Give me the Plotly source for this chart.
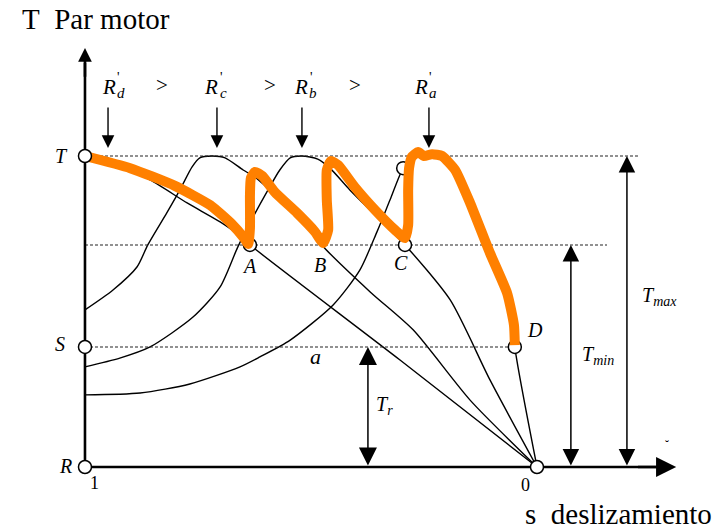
import plotly.graph_objects as go

# Horizontal axis: slip s (1 = standstill on the left, 0 = synchronous speed).
# Vertical axis: motor torque, normalised so that the peak torque is 1.
T_MAX = 1.0
T_MIN = 0.714
T_R = 0.386

# Torque-slip characteristics for the four rotor resistances R'd > R'c > R'b > R'a
slip_d = [1.000, 0.923, 0.856, 0.774, 0.701, 0.657, 0.635, 0.303, 0.0]
torque_d = [1.000, 0.965, 0.923, 0.849, 0.788, 0.743, 0.714, 0.344, 0.0]

slip_c = [1.000, 0.938, 0.885, 0.861, 0.819, 0.790, 0.763, 0.746, 0.719, 0.690,
          0.650, 0.624, 0.591, 0.531, 0.491, 0.476, 0.369, 0.274, 0.148, 0.0]
torque_c = [0.505, 0.569, 0.643, 0.714, 0.817, 0.891, 0.965, 0.994, 1.000, 0.994,
            0.955, 0.932, 0.891, 0.810, 0.746, 0.714, 0.563, 0.441, 0.215, 0.0]

slip_b = [1.000, 0.923, 0.856, 0.761, 0.701, 0.662, 0.628, 0.595, 0.569, 0.546,
          0.520, 0.485, 0.458, 0.414, 0.358, 0.314, 0.292, 0.192, 0.104, 0.0]
torque_b = [0.322, 0.350, 0.386, 0.482, 0.579, 0.707, 0.804, 0.891, 0.955, 0.994,
            1.000, 0.990, 0.961, 0.891, 0.810, 0.746, 0.714, 0.537, 0.280, 0.0]

slip_a = [1.000, 0.878, 0.768, 0.657, 0.613, 0.546, 0.451, 0.392, 0.354, 0.325,
          0.296, 0.274, 0.241, 0.210, 0.181, 0.148, 0.104, 0.066, 0.051, 0.049, 0.0]
torque_a = [0.232, 0.238, 0.267, 0.322, 0.354, 0.408, 0.521, 0.633, 0.756, 0.859,
            0.961, 0.994, 1.000, 0.987, 0.955, 0.849, 0.688, 0.559, 0.457, 0.386, 0.0]

# Starting trajectory: T -> A, jump, -> B, jump, -> C, jump, -> D
slip_path = [1.000, 0.900, 0.801, 0.723, 0.675, 0.648, 0.639,
             0.635, 0.635, 0.633, 0.624, 0.608, 0.580, 0.531, 0.491, 0.473,
             0.462, 0.465, 0.465, 0.456, 0.440, 0.403, 0.358, 0.314, 0.292,
             0.285, 0.285, 0.283, 0.277, 0.263, 0.250, 0.232, 0.210, 0.181,
             0.148, 0.104, 0.066, 0.051, 0.049]
torque_path = [1.000, 0.961, 0.904, 0.842, 0.781, 0.736, 0.717,
               0.768, 0.875, 0.929, 0.949, 0.936, 0.884, 0.817, 0.756, 0.720,
               0.762, 0.859, 0.955, 0.984, 0.971, 0.900, 0.826, 0.762, 0.736,
               0.778, 0.891, 0.961, 0.997, 1.013, 1.000, 1.006, 1.000, 0.955,
               0.849, 0.688, 0.559, 0.457, 0.392]

# Switching points
pt_names = ["A", "B", "C", "D"]
pt_slip = [0.635, 0.476, 0.292, 0.049]
pt_torque = [T_MIN, T_MIN, T_MIN, T_R]
upper_slip = 0.296      # point reached on curve R'a after the last switch
upper_torque = 0.961

# Resistance labels above the peaks
res_sub = ["d", "c", "b", "a"]
res_label_slip = [0.947, 0.721, 0.522, 0.257]
res_arrow_slip = [0.949, 0.708, 0.520, 0.239]
gt_slip = [0.830, 0.591, 0.403]

SERIF = "'Liberation Serif', 'Times New Roman', Times, serif"

fig = go.Figure()

def line(x, y, width=1.4, color="black", dash=None, shape="spline", smoothing=0.7):
    fig.add_trace(go.Scatter(
        x=x, y=y, mode="lines", hoverinfo="skip", showlegend=False,
        line=dict(color=color, width=width, dash=dash, shape=shape,
                  smoothing=smoothing if shape == "spline" else None)))

# torque-slip curves
for s, t in [(slip_d, torque_d), (slip_c, torque_c), (slip_b, torque_b), (slip_a, torque_a)]:
    line(s, t)

# dotted reference levels
line([1, -0.228], [T_MAX, T_MAX], width=1.1, color="#222", dash="3px,2px", shape="linear")
line([1, -0.155], [T_MIN, T_MIN], width=1.1, color="#222", dash="3px,2px", shape="linear")
line([1, pt_slip[3]], [T_R, T_R], width=1.1, color="#222", dash="3px,2px", shape="linear")

# coordinate axes
line([1, 1], [0, 1.30], width=2.6, shape="linear")
line([1, -0.27], [0, 0], width=2.6, shape="linear")

marker_style = dict(size=13, color="white", line=dict(color="black", width=1.5))
# switching points (under the trajectory)
fig.add_trace(go.Scatter(
    x=[pt_slip[0], pt_slip[2], upper_slip, pt_slip[3]],
    y=[pt_torque[0], pt_torque[2], upper_torque, pt_torque[3]],
    mode="markers", marker=marker_style, hoverinfo="skip", showlegend=False))

# trajectory
fig.add_trace(go.Scatter(
    x=slip_path, y=torque_path, mode="lines", hoverinfo="skip", showlegend=False,
    line=dict(color="#ff8000", width=10, shape="spline", smoothing=0.5)))

# points on the axes
fig.add_trace(go.Scatter(
    x=[1, 1, 1, 0], y=[T_MAX, T_R, 0, 0],
    mode="markers", marker=marker_style, hoverinfo="skip", showlegend=False))

ann = []

def arrow(x, y, ax, ay, width, size, both=False):
    a = dict(x=x, y=y, ax=ax, ay=ay, xref="x", yref="y", axref="x", ayref="y",
             text="", showarrow=True, arrowhead=2, arrowwidth=width, arrowsize=size,
             arrowcolor="black", standoff=0)
    if both:
        a.update(arrowside="end+start", startarrowhead=2, startarrowsize=size, startstandoff=0)
    ann.append(a)

def label(x, y, text, size=20, xshift=0, yshift=0, xref="x", yref="y", xanchor="center"):
    ann.append(dict(x=x, y=y, xref=xref, yref=yref, text=text, showarrow=False,
                    xshift=xshift, yshift=yshift, xanchor=xanchor, yanchor="middle",
                    font=dict(family=SERIF, size=size, color="black")))

# axis arrowheads
arrow(1, 1.347, 1, 1.25, 2.6, 1.05)
arrow(-0.308, 0, -0.22, 0, 2.6, 1.55)

# Tr, Tmin, Tmax dimension arrows
arrow(0.374, T_R, 0.374, 0, 1.5, 2.4, both=True)
arrow(-0.075, T_MIN, -0.075, 0, 1.5, 2.2, both=True)
arrow(-0.199, T_MAX, -0.199, 0, 1.5, 2.2, both=True)

# resistance labels and arrows
for ls, asl, sub in zip(res_label_slip, res_arrow_slip, res_sub):
    arrow(asl, 1.026, asl, 1.161, 1.4, 1.8)
    label(ls, 1.222, "<i>R</i>", size=21)
    label(ls, 1.222, "<i>%s</i>" % sub, size=15, xshift=12, yshift=-6)
    label(ls, 1.222, "'", size=14, xshift=10, yshift=9)
for gs in gt_slip:
    label(gs, 1.228, "&gt;", size=21)

# axis point labels
label(1, T_MAX, "<i>T</i>", xshift=-23)
label(1, T_R, "<i>S</i>", xshift=-25, yshift=3)
label(1, 0, "<i>R</i>", xshift=-19, yshift=1)
label(1, 0, "1", size=18, xshift=10, yshift=-16)
label(0, 0, "0", size=18, xshift=-11, yshift=-18)

# switching point labels
label(pt_slip[0], pt_torque[0], "<i>A</i>", yshift=-21)
label(pt_slip[1], pt_torque[1], "<i>B</i>", xshift=-2, yshift=-20)
label(pt_slip[2], pt_torque[2], "<i>C</i>", xshift=-4, yshift=-18)
label(pt_slip[3], pt_torque[3], "<i>D</i>", xshift=20, yshift=17)
label(0.491, T_R, "<i>a</i>", size=22, yshift=-10)

# dimension labels
label(0.374, 0.199, "<i>T<sub>r</sub></i>", xshift=17)
label(-0.075, 0.360, "<i>T<sub>min</sub></i>", xshift=27)
label(-0.199, 0.547, "<i>T<sub>max</sub></i>", xshift=33)
label(-0.288, 0.071, "˘", size=12)

# axis titles
label(20 / 728, 1 - 19 / 532, "T\u00a0\u00a0Par motor", size=29, xref="paper", yref="paper", xanchor="left")
label(523 / 728, 1 - 514 / 532, "s\u00a0\u00a0deslizamiento", size=29, xref="paper", yref="paper", xanchor="left")

fig.update_layout(
    width=728, height=532,
    margin=dict(l=0, r=0, t=0, b=0),
    paper_bgcolor="white", plot_bgcolor="white",
    font=dict(family=SERIF),
    xaxis=dict(range=[1.188, -0.4226], visible=False, fixedrange=True),
    yaxis=dict(range=[-0.209, 1.5016], visible=False, fixedrange=True),
    annotations=ann,
    showlegend=False,
)

fig.write_html("out.html")
